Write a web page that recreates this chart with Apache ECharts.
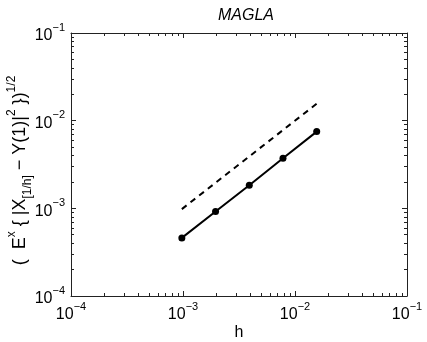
<!DOCTYPE html>
<html><head><meta charset="utf-8">
<script src="https://cdn.jsdelivr.net/npm/echarts@6/dist/echarts.min.js"></script>
<style>html,body{margin:0;padding:0;background:#fff}#c{width:427px;height:342px}</style>
</head><body><div id="c"></div>
<script>
const titleText = 'MAGLA';
const xName = 'h';
const hValues = [0.0009765625, 0.001953125, 0.00390625, 0.0078125, 0.015625];
const errValues = [4.6e-4, 9.2e-4, 1.83e-3, 3.72e-3, 7.5e-3];
const refH = [0.0009765625, 0.015625];
const refValues = [0.00098, 0.0156];
const majorTicks = [1e-4, 1e-3, 1e-2, 1e-1];
const minorTicks = [];
[1e-4, 1e-3, 1e-2].forEach(d => { for (let m = 2; m <= 9; m++) minorTicks.push(+(m * d).toPrecision(3)); });

const FONT = '"Liberation Sans", Arial, Helvetica, sans-serif';
const tickRich = {
  b: { fontSize: 16, fontFamily: FONT, color: '#000', lineHeight: 22, verticalAlign: 'bottom' },
  s: { fontSize: 11, fontFamily: FONT, color: '#000', lineHeight: 12, verticalAlign: 'top' }
};
function fmt(v) {
  const e = Math.round(Math.log10(v));
  return '{b|10}{s|' + (e < 0 ? '\u2212' + (-e) : e) + '}';
}
const ext = { min: 1e-4, max: 1e-1, logBase: 10 };
const lineSt = { color: '#222', width: 1 };

function mkX(pos, minor, withLabels) {
  return Object.assign({
    type: 'log', position: pos, gridIndex: 0,
    axisLine: { show: !minor, onZero: false, lineStyle: lineSt },
    axisTick: { show: true, inside: true, length: minor ? 3 : 5, customValues: minor ? minorTicks : majorTicks, lineStyle: lineSt },
    axisLabel: { show: withLabels, customValues: majorTicks, formatter: fmt, rich: tickRich, margin: 5 },
    splitLine: { show: false }, minorTick: { show: false }
  }, ext);
}
const xAxes = [mkX('bottom', false, true), mkX('bottom', true, false), mkX('top', false, false), mkX('top', true, false)];
xAxes[0].name = xName;
xAxes[0].nameLocation = 'middle';
xAxes[0].nameGap = 29;
xAxes[0].nameMoveOverlap = false;
xAxes[0].nameTextStyle = { fontSize: 16, fontFamily: FONT, color: '#000' };

const yAxes = [mkX('left', false, true), mkX('left', true, false), mkX('right', false, false), mkX('right', true, false)];
yAxes.forEach(a => { a.axisLabel.margin = 6; });
yAxes[0].name = '(  E{sup|x} { |X{sub|[1/h]} \u2212 Y(1)|{sup|2} })' + '{sup|1/2}';
yAxes[0].nameLocation = 'middle';
yAxes[0].nameRotate = 90;
yAxes[0].nameGap = 37;
yAxes[0].nameMoveOverlap = false;
yAxes[0].nameTextStyle = {
  fontSize: 18, fontFamily: FONT, color: '#000', lineHeight: 28, padding: [0, 12, 0, 0],
  rich: {
    sup: { fontSize: 12, fontFamily: FONT, color: '#000', lineHeight: 12, verticalAlign: 'top' },
    sub: { fontSize: 12, fontFamily: FONT, color: '#000', lineHeight: 12, verticalAlign: 'bottom' }
  }
};

const chart = echarts.init(document.getElementById('c'), null, { renderer: 'canvas' });
chart.setOption({
  animation: false,
  backgroundColor: '#fff',
  title: { text: titleText, left: 241, textAlign: 'center', top: 3,
    textStyle: { fontSize: 16, fontStyle: 'italic', fontWeight: 'normal', fontFamily: FONT, color: '#000' } },
  grid: { left: 71, right: 20, top: 33, bottom: 46, containLabel: false, outerBoundsMode: 'none' },
  xAxis: xAxes,
  yAxis: yAxes,
  series: [
    { type: 'line', xAxisIndex: 0, yAxisIndex: 0, data: refH.map((h, i) => [h, refValues[i]]),
      symbol: 'none', lineStyle: { color: '#000', width: 2, type: [6, 5] } },
    { type: 'line', xAxisIndex: 0, yAxisIndex: 0, data: hValues.map((h, i) => [h, errValues[i]]),
      symbol: 'circle', symbolSize: 7, itemStyle: { color: '#000' }, lineStyle: { color: '#000', width: 2 } }
  ]
});
</script></body></html>
